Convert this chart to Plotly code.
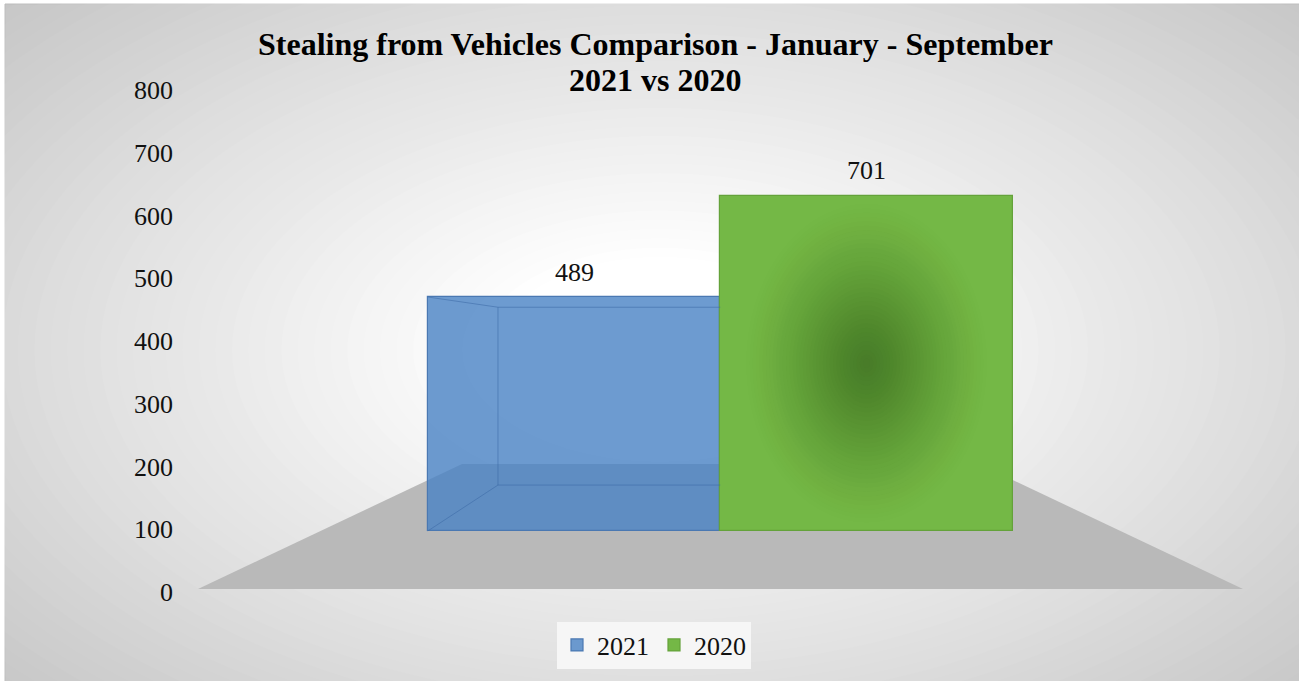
import plotly.graph_objects as go

# ---------------- data ----------------
categories = ["2021", "2020"]
values = [489, 701]
y_ticks = [0, 100, 200, 300, 400, 500, 600, 700, 800]
title_lines = ["Stealing from Vehicles Comparison - January - September", "2021 vs 2020"]

# ---------------- style ----------------
FONT = "Liberation Serif"
bar_fill = ["rgba(73,130,196,0.80)", "#74b846"]
bar_line = ["#4a78b2", "#64a23a"]
green_center = (72, 124, 42)

W, H = 1299, 681
L, R, T, B = 180, 39, 90, 89
PW, PH = W - L - R, H - T - B


def px(xp):
    return (xp - L) / PW


def py(yp):
    return (H - B - yp) / PH


x_pos = list(range(len(categories)))
x_range = [-1.347, 2.345]
y2_range = [-127.5, 921.6]

fig = go.Figure()

for i, (cat, v) in enumerate(zip(categories, values)):
    fig.add_trace(go.Bar(
        x=[x_pos[i]], y=[v], base=0, width=1.0, name=cat,
        marker=dict(color=bar_fill[i], line=dict(color=bar_line[i], width=1.2)),
        yaxis="y2", hoverinfo="skip",
    ))

# perspective edges of the transparent 2021 box (derived from its value)
VP_X, VP_Y, DEPTH = 0.5, 400.0, 0.76
v0 = values[0]
fx0, fx1 = x_pos[0] - 0.5, x_pos[0] + 0.5
bx0 = VP_X + DEPTH * (fx0 - VP_X)
bx1 = VP_X + DEPTH * (fx1 - VP_X)
by_top = VP_Y + DEPTH * (v0 - VP_Y)
by_bot = VP_Y + DEPTH * (0 - VP_Y)
ex = [fx0, bx0, None, fx0, bx0, None, bx0, bx0, None, bx0, bx1, None, bx0, bx1]
ey = [v0, by_top, None, 0, by_bot, None, by_top, by_bot, None, by_top, by_top, None, by_bot, by_bot]
fig.add_trace(go.Scatter(x=ex, y=ey, mode="lines", yaxis="y2", showlegend=False,
                         hoverinfo="skip", line=dict(color="rgba(60,105,165,0.55)", width=1)))

# visible value axis (no marks, only ticks)
fig.add_trace(go.Scatter(x=[None], y=[None], showlegend=False, hoverinfo="skip"))

shapes = []
# chart area background with radial gradient
shapes.append(dict(type="rect", xref="paper", yref="paper", layer="below",
                   x0=px(5), x1=px(W + 3), y0=py(H + 3), y1=py(4),
                   fillcolor="rgb(198,198,198)", line=dict(color="#bcbcbc", width=1)))
cx, cy, rx, ry = 660, 350, 760, 430
N = 60
c = 198.0
for j in range(N):
    k = 1.3 * (1 - j / N)
    s = min(max((k - 0.2) / (1.2 - 0.2), 0.0), 1.0)
    target = 255 - 57 * s ** 1.6
    if target <= c:
        continue
    a = (target - c) / (255 - c)
    c = c + a * (255 - c)
    shapes.append(dict(type="circle", xref="paper", yref="paper", layer="below",
                       x0=px(cx - k * rx), x1=px(cx + k * rx),
                       y0=py(cy + k * ry), y1=py(cy - k * ry),
                       fillcolor="white", opacity=min(a, 1.0), line=dict(width=0)))

# floor of the 3D plot area
fpts = [(198, 589), (1243, 589), (979, 464), (462, 464)]
path = "M " + " L ".join(f"{px(a):.5f},{py(b):.5f}" for a, b in fpts) + " Z"
shapes.append(dict(type="path", xref="paper", yref="paper", layer="below", path=path,
                   fillcolor="#b9b9b9", line=dict(width=0)))

# radial gradient inside the 2020 bar (derived from its value)
v1 = values[1]
gc = "rgb(%d,%d,%d)" % green_center
f = 0.0
NG = 36
for j in range(1, NG + 1):
    k = 1 - j / (NG + 1)
    t = (1 - k) ** 1.7
    a = (t - f) / (1 - f) if f < 1 else 0
    f = f + a * (1 - f)
    shapes.append(dict(type="circle", xref="x", yref="y2", layer="above",
                       x0=x_pos[1] - 0.5 * 0.85 * k, x1=x_pos[1] + 0.5 * 0.85 * k,
                       y0=v1 / 2 - k * v1 / 2 * 0.98, y1=v1 / 2 + k * v1 / 2 * 0.98,
                       fillcolor=gc, opacity=a, line=dict(width=0)))

annotations = []
for i, v in enumerate(values):
    annotations.append(dict(x=x_pos[i], y=v, xref="x", yref="y2", text=str(v),
                            showarrow=False, yanchor="middle", yshift=25,
                            font=dict(family=FONT, size=26, color="#111111")))

# two-line title
for line, yc in zip(title_lines, [44, 80]):
    annotations.append(dict(x=px(655), y=py(yc), xref="paper", yref="paper", text=f"<b>{line}</b>",
                            showarrow=False, xanchor="center", yanchor="middle",
                            font=dict(family=FONT, size=32, color="#000000")))

fig.update_layout(
    width=W, height=H,
    margin=dict(l=L, r=R, t=T, b=B),
    paper_bgcolor="white", plot_bgcolor="rgba(0,0,0,0)",
    barmode="overlay", bargap=0,
    xaxis=dict(range=x_range, visible=False, fixedrange=True),
    yaxis=dict(range=[0, 800], tickvals=y_ticks, ticktext=[str(t) for t in y_ticks],
               showgrid=False, zeroline=False, showline=False, ticks="",
               ticklabelstandoff=6,
               tickfont=dict(family=FONT, size=26, color="#111111")),
    yaxis2=dict(range=y2_range, overlaying="y", visible=False),
    legend=dict(orientation="h", x=px(654), y=py(645), xanchor="center", yanchor="middle",
                bgcolor="rgba(246,246,246,1)", font=dict(family=FONT, size=26, color="#111111"),
                itemwidth=30, traceorder="normal"),
    shapes=shapes,
    annotations=annotations,
    showlegend=True,
)

fig.write_html("out.html", config={"displayModeBar": False},
               post_script="document.body.style.margin='0px';")
